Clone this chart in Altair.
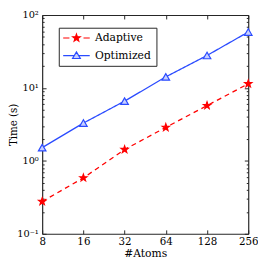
import altair as alt
import pandas as pd

atoms = [8, 16, 32, 64, 128, 256]
adaptive = [0.277, 0.585, 1.43, 2.88, 5.73, 11.4]
optimized = [1.52, 3.3, 6.6, 14.2, 27.9, 58.5]
series = ["Adaptive", "Optimized"]
x_ticks = [8, 16, 32, 64, 128, 256]
y_major = [0.1, 1, 10, 100]
y_minor = [m * 10.0 ** e for e in range(-1, 2) for m in range(1, 10)] + [100.0]

df = pd.DataFrame({
    "atoms": atoms * 2,
    "time": adaptive + optimized,
    "series": ["Adaptive"] * len(atoms) + ["Optimized"] * len(atoms),
})

W, H = 211, 224
FONT = "DejaVu Serif"
FRAME = "#262626"
RED = "#ff0000"
BLUE = "#2a4bff"
LIGHT = "#c8d0ff"

STAR = "M0,-1L0.235,-0.324L0.951,-0.309L0.38,0.124L0.588,0.809L0,0.4L-0.588,0.809L-0.38,0.124L-0.951,-0.309L-0.235,-0.324Z"
# legend glyphs: marker with short line pieces on each side (shifted right)
LEG_STAR = ("M1.9,-1L2.135,-0.324L2.851,-0.309L2.28,0.124L2.488,0.809L1.9,0.4L1.312,0.809"
            "L1.52,0.124L0.949,-0.309L1.665,-0.324Z M-1.5,0H0.1 M3.7,0H5.3")
LEG_TRI = "M0.9,0.75L2.9,0.75L1.9,-0.95Z M-1.5,0H1.34 M2.46,0H5.3"

xscale = alt.Scale(type="log", base=2, domain=[8, 256], nice=False)
yscale = alt.Scale(type="log", domain=[0.1, 100], nice=False)
color_scale = alt.Scale(domain=series, range=[RED, BLUE])
fill_scale = alt.Scale(domain=series, range=[RED, LIGHT])
is_major = "abs(log(datum.value)/LN10 - round(log(datum.value)/LN10)) < 1e-6"
tick_cond = {"condition": {"test": is_major, "value": 4}, "value": 2}
sup = ("datum.value == 0.1 ? '10⁻¹' : datum.value == 1 ? '10⁰' : "
       "datum.value == 10 ? '10¹' : '10²'")

base = alt.Chart(df)

lines = base.mark_line(strokeWidth=1.3).encode(
    x=alt.X("atoms:Q", scale=xscale, axis=alt.Axis(
        orient="bottom", values=x_ticks, labelExpr="format(datum.value, 'd')",
        ticks=False, domain=True, domainColor=FRAME, domainWidth=1.2,
        labelFont=FONT, labelFontSize=10.5, labelColor="black", labelPadding=3,
        labelFlush=False,
        title="#Atoms", titleFont=FONT, titleFontSize=11, titleFontWeight="normal",
        titleColor="black", titlePadding=1, grid=False)),
    y=alt.Y("time:Q", scale=yscale, axis=alt.Axis(
        orient="left", values=y_major, labelExpr=sup,
        ticks=False, domain=True, domainColor=FRAME, domainWidth=1.2,
        labelFont=FONT, labelFontSize=10, labelColor="black", labelPadding=4,
        labelFlush=False,
        title="Time (s)", titleFont=FONT, titleFontSize=10.5, titleFontWeight="normal",
        titleColor="black", titleX=-29, titleY=H / 2, titleBaseline="middle",
        titleAngle=270, grid=False)),
    color=alt.Color("series:N", scale=color_scale, legend=None),
    strokeDash=alt.StrokeDash("series:N", scale=alt.Scale(domain=series, range=[[5, 4], [1, 0]]), legend=None),
)

points = base.mark_point(size=60, strokeWidth=1.2, opacity=1).encode(
    x=alt.X("atoms:Q", scale=xscale, axis=alt.Axis(
        orient="top", offset=-H, values=x_ticks, labels=False, domain=False,
        ticks=True, tickSize=4, tickColor=FRAME, title=None, grid=False)),
    y=alt.Y("time:Q", scale=yscale, axis=alt.Axis(
        orient="right", offset=-W, values=y_minor, labels=False, domain=False,
        ticks=True, tickSize=tick_cond, tickColor=FRAME, title=None, grid=False)),
    color=alt.Color("series:N", scale=color_scale, legend=None),
    fill=alt.Fill("series:N", scale=fill_scale, legend=None),
    shape=alt.Shape("series:N", scale=alt.Scale(domain=series, range=[STAR, "triangle-up"]), legend=None),
)

frame = base.mark_point(opacity=0).encode(
    x=alt.X("atoms:Q", scale=xscale, axis=alt.Axis(
        orient="bottom", offset=-H, values=x_ticks, labels=False, domain=True,
        domainColor=FRAME, domainWidth=1.2,
        ticks=True, tickSize=4, tickColor=FRAME, title=None, grid=False)),
    y=alt.Y("time:Q", scale=yscale, axis=alt.Axis(
        orient="left", offset=-W, values=y_minor, labels=False, domain=True,
        domainColor=FRAME, domainWidth=1.2,
        ticks=True, tickSize=tick_cond, tickColor=FRAME, title=None, grid=False)),
)

legend_layer = base.transform_filter("datum.time < 0").mark_point(
    size=64, strokeWidth=1.2, opacity=1
).encode(
    x=alt.X("atoms:Q", scale=xscale, axis=None),
    y=alt.Y("time:Q", scale=yscale, axis=None),
    color=alt.Color("series:N", scale=color_scale, legend=alt.Legend(title=None, symbolOpacity=1)),
    fill=alt.Fill("series:N", scale=fill_scale, legend=alt.Legend(title=None, symbolOpacity=1)),
    shape=alt.Shape("series:N", scale=alt.Scale(domain=series, range=[LEG_STAR, LEG_TRI]),
                    legend=alt.Legend(title=None, symbolOpacity=1)),
)

chart = alt.layer(lines, points, frame, legend_layer).resolve_axis(
    x="independent", y="independent"
).resolve_scale(
    shape="independent"
).resolve_legend(
    color="independent", strokeDash="independent", shape="independent", fill="independent"
).properties(
    width=W, height=H,
    autosize=alt.AutoSizeParams(type="none"),
    padding={"left": 35, "top": 4, "right": 10, "bottom": 40},
).configure_view(stroke=None).configure_legend(
    orient="none", legendX=17, legendY=13,
    strokeColor=FRAME, fillColor="white", padding=5, cornerRadius=0,
    labelFont=FONT, labelFontSize=11, labelColor="black",
    symbolSize=64, symbolStrokeWidth=1.2, symbolOpacity=1, rowPadding=5, labelOffset=21,
)

chart.save("out.html", embed_options={"renderer": "svg", "actions": False})
